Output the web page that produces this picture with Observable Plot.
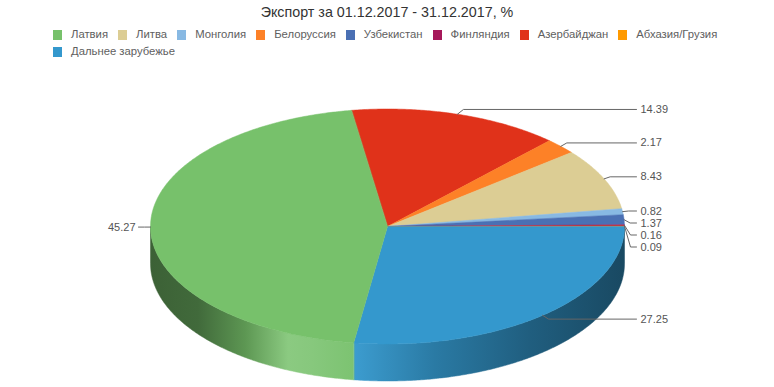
<!DOCTYPE html>
<html>
<head>
<meta charset="utf-8">
<script src="https://cdn.jsdelivr.net/npm/d3@7"></script>
<script src="https://cdn.jsdelivr.net/npm/@observablehq/plot@0.6"></script>
<style>
  body { margin: 0; background: #fff; }
  #wrap { position: relative; width: 774px; height: 387px; font-family: "Liberation Sans", Arial, Helvetica, sans-serif; }
  #title { position: absolute; left: 0; top: 3px; width: 774px; text-align: center; font-size: 14.3px; line-height: 18px; color: #333; }
  #legend { position: absolute; left: 53px; top: 28px; width: 690px; display: flex; flex-wrap: wrap; column-gap: 10px; row-gap: 4px; }
  .item { display: flex; align-items: center; height: 13px; font-size: 11.3px; line-height: 13px; color: #606060; white-space: nowrap; }
  .sw { width: 9px; height: 10px; margin-right: 9px; }
  #chart { position: absolute; left: 0; top: 64px; }
</style>
</head>
<body>
<div id="wrap">
  <div id="title"></div>
  <div id="legend"></div>
  <div id="chart"></div>
</div>
<script>
// ---- data ----
const titleText = "Экспорт за 01.12.2017 - 31.12.2017, %";
const categories = ["Латвия", "Литва", "Монголия", "Белоруссия", "Узбекистан", "Финляндия", "Азербайджан", "Абхазия/Грузия", "Дальнее зарубежье"];
const values = [45.27, 8.43, 0.82, 2.17, 1.37, 0.16, 14.39, 0.09, 27.25];
const colors = ["#77c16b", "#dccd94", "#88b9e3", "#fd8127", "#4a70b4", "#a6185a", "#e0321a", "#ff9a00", "#3498cd"];
// clockwise drawing order of the slices, from the start angle
const sliceOrder = ["Азербайджан", "Белоруссия", "Литва", "Монголия", "Узбекистан", "Финляндия", "Абхазия/Грузия", "Дальнее зарубежье", "Латвия"];

// ---- layout ----
const W = 774, H = 323, HEADER = 64;
const CX = 387, RX = 237, CY = 226 - HEADER, RY = 117.5, DEPTH_PX = 37;
const startAngle = -8.75 * Math.PI / 180;
const depth = DEPTH_PX / RY;

document.getElementById("title").textContent = titleText;
const legend = d3.select("#legend");
categories.forEach((c, i) => {
  const it = legend.append("div").attr("class", "item");
  it.append("div").attr("class", "sw").style("background", colors[i]);
  it.append("span").text(c);
});

const colorOf = name => colors[categories.indexOf(name)];
const pie = d3.pie().sort(null).value(d => d.value).startAngle(startAngle).endAngle(startAngle + 2 * Math.PI);
const arcs = pie(sliceOrder.map(name => ({name, value: values[categories.indexOf(name)]})));

const px = a => Math.sin(a), py = a => -Math.cos(a);
function arcPts(a0, a1) {
  const n = Math.max(2, Math.ceil((a1 - a0) / (Math.PI / 360)));
  return d3.range(n + 1).map(i => a0 + (a1 - a0) * i / n);
}

// top faces
const topPts = [];
arcs.forEach(s => {
  topPts.push({name: s.data.name, x: 0, y: 0});
  arcPts(s.startAngle, s.endAngle).forEach(a => topPts.push({name: s.data.name, x: px(a), y: py(a)}));
});

// side faces (visible front half)
const sides = [];
arcs.forEach((s, i) => {
  const s0 = Math.max(s.startAngle, Math.PI / 2), s1 = Math.min(s.endAngle, 3 * Math.PI / 2);
  if (s1 - s0 < 0.002) return;
  const as = arcPts(s0, s1);
  const pts = as.map(a => ({x: px(a), y: py(a)})).concat(as.slice().reverse().map(a => ({x: px(a), y: py(a) + depth})));
  sides.push({name: s.data.name, id: "side-" + i, pts});
});

// labels
const lbl = arcs.map(s => {
  const m = (s.startAngle + s.endAngle) / 2;
  return {name: s.data.name, text: d3.format(".2f")(s.data.value), ex: px(m), ey: py(m), right: Math.sin(m) >= 0, ly: py(m) * (1 + 5 / RY)};
});
const gap = 12 / RY;
["right", "left"].forEach(side => {
  const grp = lbl.filter(d => (side === "right") === d.right).sort((a, b) => a.ly - b.ly);
  for (let i = 1; i < grp.length; i++) grp[i].ly = Math.max(grp[i].ly, grp[i - 1].ly + gap);
});
const lineEnd = (636 - CX) / RX, textX = (640 - CX) / RX, kink = 6 / RX;
const connPts = [];
lbl.forEach(d => {
  const s = d.right ? 1 : -1;
  connPts.push({name: d.name, x: d.ex, y: d.ey});
  connPts.push({name: d.name, x: d.ex + s * kink, y: d.ly});
  connPts.push({name: d.name, x: s * lineEnd, y: d.ly});
  d.tx = d.right ? textX : -(636 - CX + 3) / RX;
});

const sideMarks = sides.map(sd => Plot.line(sd.pts, {x: "x", y: "y", fill: `url(#${sd.id})`, stroke: `url(#${sd.id})`, strokeWidth: 0.5, curve: "linear-closed"}));

const plot = Plot.plot({
  width: W, height: H, margin: 0,
  style: {fontFamily: "'Liberation Sans', Arial, Helvetica, sans-serif", background: "#fff", overflow: "visible"},
  x: {domain: [-1, 1], range: [CX - RX, CX + RX], axis: null},
  y: {domain: [-1, 1], range: [CY - RY, CY + RY], axis: null},
  color: {domain: categories, range: colors},
  marks: [
    ...sideMarks,
    Plot.line(topPts, {x: "x", y: "y", z: "name", fill: "name", stroke: "name", strokeWidth: 0.5, curve: "linear-closed"}),
    Plot.line(connPts, {x: "x", y: "y", z: "name", stroke: "#666", strokeWidth: 1}),
    Plot.text(lbl.filter(d => d.right), {x: "tx", y: "ly", text: "text", textAnchor: "start", fill: "#555", fontSize: 11}),
    Plot.text(lbl.filter(d => !d.right), {x: "tx", y: "ly", text: "text", textAnchor: "end", fill: "#555", fontSize: 11})
  ]
});

// gradients for the 3D side faces
function shade(c, k) {
  const r = d3.rgb(c);
  if (k <= 1) return d3.rgb(r.r * k, r.g * k, r.b * k).formatHex();
  return d3.interpolateRgb(r, "#fff")(k - 1);
}
const stops = [[0, 0.5], [0.1, 0.55], [0.2, 0.78], [0.29, 1.15], [0.34, 1.12], [0.43, 1.04], [0.6, 0.8], [0.8, 0.62], [1, 0.48]];
const xs = plot.scale("x");
const defs = d3.select(plot).insert("defs", ":first-child");
sides.forEach(sd => {
  const g = defs.append("linearGradient").attr("id", sd.id).attr("gradientUnits", "userSpaceOnUse")
    .attr("x1", xs.apply(-1)).attr("x2", xs.apply(1)).attr("y1", 0).attr("y2", 0);
  stops.forEach(([o, k]) => g.append("stop").attr("offset", o).attr("stop-color", shade(colorOf(sd.name), k)));
});

document.getElementById("chart").appendChild(plot);
</script>
</body>
</html>
